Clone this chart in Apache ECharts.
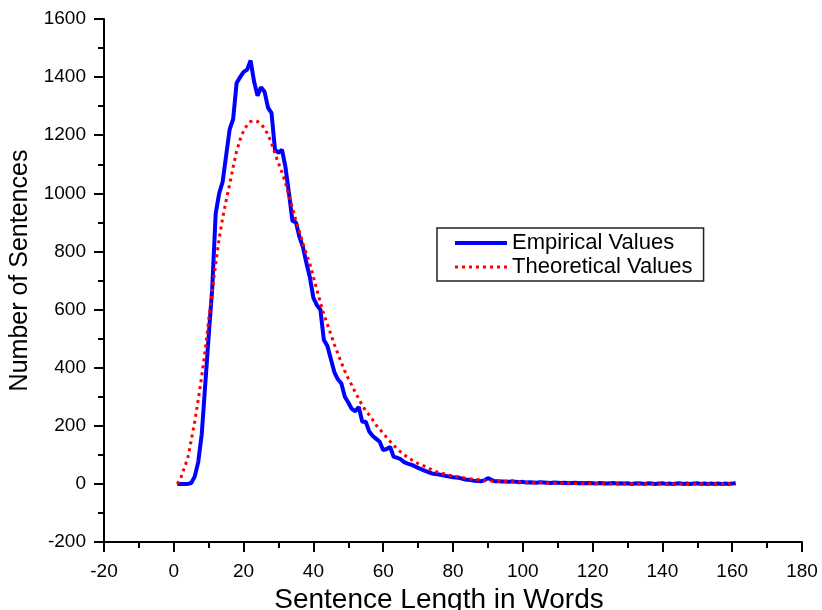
<!DOCTYPE html>
<html>
<head>
<meta charset="utf-8">
<script src="https://cdn.jsdelivr.net/npm/echarts@6/dist/echarts.min.js"></script>
<style>
html, body { margin: 0; padding: 0; background: #fff; }
#chart { width: 822px; height: 610px; }
</style>
</head>
<body>
<div id="chart"></div>
<script>
// sentence lengths 1..161
var lengths = [];
for (var i = 1; i <= 161; i++) lengths.push(i);

var empirical = [
  0, 0, 0, 0, 3, 25, 75, 170, 340, 510,
  670, 930, 1000, 1040, 1130, 1220, 1255, 1380, 1400, 1418,
  1425, 1457, 1385, 1336, 1365, 1350, 1295, 1276, 1150, 1140,
  1150, 1090, 1000, 905, 900, 850, 815, 760, 710, 640,
  615, 600, 495, 475, 430, 385, 360, 346, 300, 280,
  258, 250, 265, 214, 214, 180, 165, 155, 145, 116,
  120, 127, 93, 90, 85, 75, 70, 66, 61, 55,
  50, 45, 40, 36, 34, 32, 30, 27, 25, 23,
  22, 20, 17, 14, 13, 11, 10, 9, 12, 20,
  14, 9, 9, 8, 8, 7, 9, 7, 6, 7,
  5, 6, 5, 4, 6, 5, 4, 3, 5, 4,
  3, 4, 2, 3, 4, 2, 3, 2, 3, 2,
  1, 3, 2, 1, 2, 3, 1, 2, 1, 2,
  0, 1, 2, 1, 0, 2, 1, 0, 1, 2,
  0, 1, 0, 1, 2, 0, 1, 0, 1, 2,
  0, 1, 0, 1, 0, 1, 0, 1, 0, 1,
  3
];

var theoretical = [
  0, 20, 55, 88, 150, 215, 290, 370, 460, 565,
  665, 755, 845, 915, 975, 1030, 1090, 1145, 1185, 1215,
  1235, 1247, 1250, 1247, 1238, 1224, 1201, 1173, 1136, 1104,
  1072, 1036, 990, 950, 905, 868, 828, 792, 757, 712,
  668, 625, 583, 550, 515, 480, 448, 418, 388, 362,
  340, 315, 293, 270, 252, 237, 220, 202, 188, 174,
  160, 146, 133, 120, 110, 100, 92, 84, 77, 70,
  65, 60, 54, 48, 43, 39, 36, 33, 30, 28,
  25, 23, 21, 19, 17, 16, 15, 13, 12, 11,
  10, 9, 9, 8, 8, 7, 7, 6, 6, 5,
  5, 5, 4, 4, 4, 3, 3, 3, 3, 2,
  2, 2, 2, 2, 1, 1, 1, 1, 1, 1,
  1, 1, 0, 0, 0, 0, 0, 0, 0, 0,
  0, 0, 0, 0, 0, 0, 0, 0, 0, 0,
  0, 0, 0, 0, 0, 0, 0, 0, 0, 0,
  0, 0, 0, 0, 0, 0, 0, 0, 0, 0,
  -2
];

function pairs(ys) {
  return lengths.map(function (x, k) { return [x, ys[k]]; });
}

var font = 'Liberation Sans, Arial, sans-serif';
var chart = echarts.init(document.getElementById('chart'));

var axisCommon = {
  axisLine: { show: true, onZero: false, lineStyle: { color: '#000', width: 2 } },
  axisTick: { show: true, inside: false, length: 10, lineStyle: { color: '#000', width: 2 } },
  minorTick: { show: true, splitNumber: 2, length: 6, lineStyle: { color: '#000', width: 2 } },
  splitLine: { show: false },
  axisLabel: {
    color: '#000', fontSize: 19, fontFamily: font,
    formatter: function (v) { return String(v); }
  }
};

chart.setOption({
  animation: false,
  backgroundColor: '#fff',
  grid: { left: 104, right: 20, top: 19, bottom: 68, outerBoundsMode: 'none', containLabel: false },
  legend: {
    orient: 'vertical',
    left: 437,
    top: 228,
    padding: [4, 11, 3, 16],
    itemGap: 2,
    itemWidth: 52,
    itemHeight: 14,
    borderColor: '#222',
    borderWidth: 1.5,
    itemStyle: { opacity: 0 },
    textStyle: { color: '#000', fontSize: 22, fontFamily: font },
    data: [
      { name: 'Empirical Values', itemStyle: { opacity: 0 }, lineStyle: { width: 4 } },
      { name: 'Theoretical Values', itemStyle: { opacity: 0 }, lineStyle: { width: 3, type: [3, 4] } }
    ]
  },
  xAxis: Object.assign({}, axisCommon, {
    type: 'value',
    min: -20,
    max: 180,
    interval: 20,
    axisLabel: Object.assign({}, axisCommon.axisLabel, { margin: 20 }),
    name: 'Sentence Length in Words',
    nameLocation: 'middle',
    nameGap: 41,
    nameTextStyle: { color: '#000', fontSize: 28, fontFamily: font, padding: [0, 28, 0, 0] }
  }),
  yAxis: Object.assign({}, axisCommon, {
    type: 'value',
    min: -200,
    max: 1600,
    interval: 200,
    axisLabel: Object.assign({}, axisCommon.axisLabel, { margin: 18 }),
    name: 'Number of Sentences',
    nameLocation: 'middle',
    nameGap: 62,
    nameTextStyle: { color: '#000', fontSize: 25, fontFamily: font, padding: [0, 0, 0, 20] }
  }),
  series: [
    {
      name: 'Empirical Values',
      type: 'line',
      data: pairs(empirical),
      showSymbol: false,
      symbol: 'none',
      color: '#0000ff',
      lineStyle: { color: '#0000ff', width: 4 },
      z: 2
    },
    {
      name: 'Theoretical Values',
      type: 'line',
      data: pairs(theoretical),
      showSymbol: false,
      symbol: 'none',
      color: '#ff0000',
      lineStyle: { color: '#ff0000', width: 3, type: [3, 4] },
      z: 3
    }
  ]
});
</script>
</body>
</html>
